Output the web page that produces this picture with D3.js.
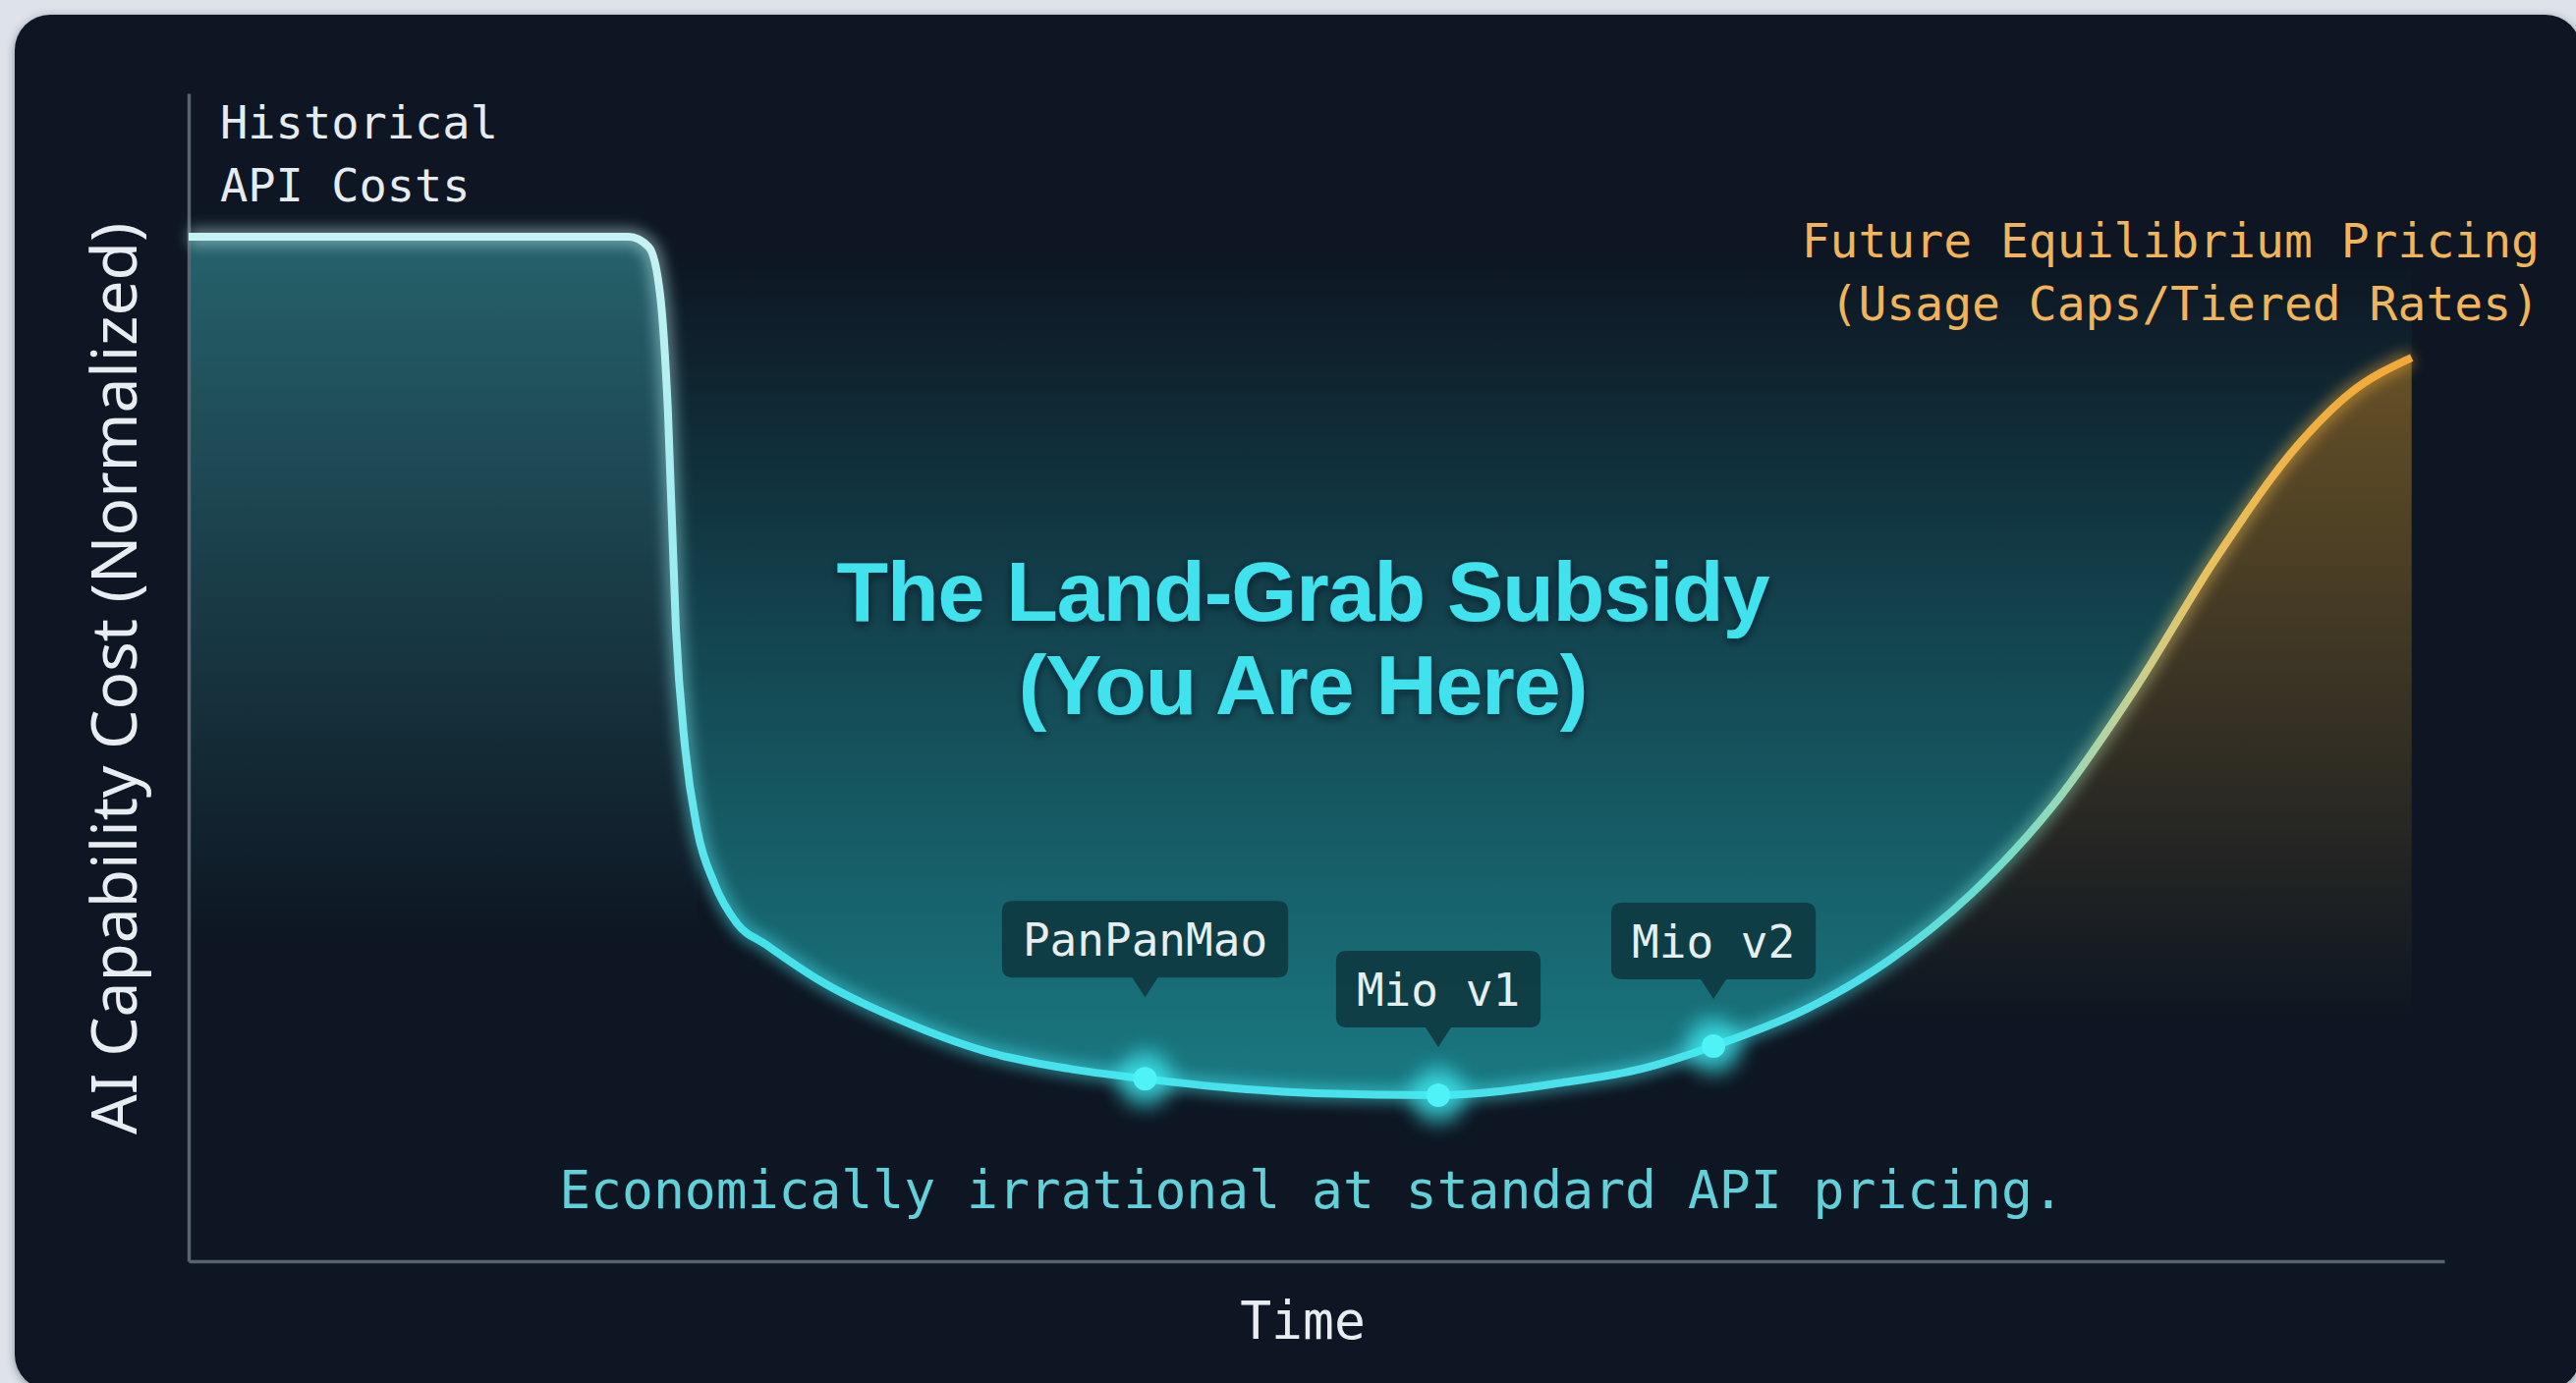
<!DOCTYPE html>
<meta charset="utf-8">
<html>
<head>
  <script src="https://d3js.org/d3.v7.min.js"></script>
  <style>
    html, body { margin: 0; padding: 0; background: #dde3e9; }
    svg { display: block; }
  </style>
</head>
<body>
<div id="chart"></div>
<script>
// normalized cost over time
var time = [0, 10, 19.5, 20.4, 20.9, 21.25, 21.6, 22.0, 22.55, 23.3, 24.3, 25.6, 28.05, 31.7, 35.3, 39.0,
            42.4, 46.25, 49.9, 55.4, 60.8, 64.45, 67.6, 71.7, 75.4, 79.0, 82.7, 86.3, 89.9, 93.6, 95.8, 98.55];
var cost = [1, 1, 1, 0.99, 0.944, 0.829, 0.618, 0.503, 0.421, 0.369, 0.330, 0.309, 0.273, 0.234, 0.205, 0.188,
            0.178, 0.169, 0.164, 0.162, 0.174, 0.188, 0.210, 0.246, 0.294, 0.358, 0.446, 0.559, 0.687, 0.799, 0.847, 0.882];

// products released during the subsidy phase
var milestoneNames = ["PanPanMao", "Mio v1", "Mio v2"];
var milestoneTime = [42.4, 55.4, 67.6];
var milestoneCost = [0.178, 0.162, 0.210];

var yTitle = "AI Capability Cost (Normalized)";
var xTitle = "Time";
var historicalLines = ["Historical", "API Costs"];
var futureLines = ["Future Equilibrium Pricing", "(Usage Caps/Tiered Rates)"];
var subsidyLines = ["The Land-Grab Subsidy", "(You Are Here)"];
var footnote = "Economically irrational at standard API pricing.";

var width = 2622, height = 1408;
var mono = "'DejaVu Sans Mono', 'Liberation Mono', monospace";

var svg = d3.select("#chart").append("svg")
    .attr("width", width)
    .attr("height", height);

var defs = svg.append("defs");

var x = d3.scaleLinear().domain([0, 100]).range([192, 2488]);
var y = d3.scaleLinear().domain([0, 1.14]).range([1284, 95]);

var pts = time.map(function(t, i) { return {t: t, c: cost[i]}; });

// --- gradients / filters ---
function vGrad(id, y1, y2, stops) {
  var g = defs.append("linearGradient").attr("id", id)
      .attr("gradientUnits", "userSpaceOnUse")
      .attr("x1", 0).attr("x2", 0).attr("y1", y1).attr("y2", y2);
  stops.forEach(function(s) {
    g.append("stop").attr("offset", s[0]).attr("stop-color", s[1]).attr("stop-opacity", s[2]);
  });
}
vGrad("glowFill", 260, 1120, [[0, "#1fa0a8", 0], [0.45, "#1fa0a8", 0.34], [1, "#1fa0a8", 0.72]]);
vGrad("histFill", y(1), 960, [[0, "#2f7f88", 0.72], [0.5, "#2f7f88", 0.36], [1, "#2f7f88", 0]]);
vGrad("futureFill", y(0.882), 1040, [[0, "#b8862a", 0.52], [0.5, "#b8862a", 0.26], [1, "#b8862a", 0]]);
vGrad("dropStroke", y(1), 950, [[0, "#c6f2f4", 1], [0.55, "#96ebef", 1], [1, "#45e2ec", 1]]);

var rs = defs.append("linearGradient").attr("id", "riseStroke")
    .attr("gradientUnits", "userSpaceOnUse")
    .attr("x1", 760).attr("x2", x(98.55)).attr("y1", 0).attr("y2", 0);
[[0, "#45e2ec"], [0.673, "#4de0ea"], [0.749, "#6fdccc"], [0.796, "#9cd8b4"],
 [0.832, "#c6d092"], [0.873, "#e6c262"], [0.938, "#f0b042"], [1, "#f2a838"]].forEach(function(s) {
  rs.append("stop").attr("offset", s[0]).attr("stop-color", s[1]);
});

var blur = defs.append("filter").attr("id", "blur")
    .attr("x", "-20%").attr("y", "-20%").attr("width", "140%").attr("height", "140%");
blur.append("feGaussianBlur").attr("stdDeviation", 7);

var dotBlur = defs.append("filter").attr("id", "dotBlur")
    .attr("x", "-100%").attr("y", "-100%").attr("width", "300%").attr("height", "300%");
dotBlur.append("feGaussianBlur").attr("stdDeviation", 10);

var textGlow = defs.append("filter").attr("id", "textGlow")
    .attr("x", "-10%").attr("y", "-30%").attr("width", "120%").attr("height", "160%");
textGlow.append("feDropShadow").attr("dx", 0).attr("dy", 3).attr("stdDeviation", 5)
    .attr("flood-color", "#04101a").attr("flood-opacity", 0.6);

var shadow = defs.append("filter").attr("id", "cardShadow")
    .attr("x", "-2%").attr("y", "-2%").attr("width", "104%").attr("height", "104%");
shadow.append("feDropShadow").attr("dx", 0).attr("dy", 2).attr("stdDeviation", 4)
    .attr("flood-color", "#2a3440").attr("flood-opacity", 0.5);

defs.append("clipPath").attr("id", "clipLeft").append("rect")
    .attr("x", 0).attr("y", 0).attr("width", 770).attr("height", height);
defs.append("clipPath").attr("id", "clipRight").append("rect")
    .attr("x", 770).attr("y", 0).attr("width", width - 770).attr("height", height);

// --- card ---
svg.append("rect")
    .attr("x", 15).attr("y", 15)
    .attr("width", 2612).attr("height", 1400)
    .attr("rx", 36)
    .attr("fill", "#0b1421")
    .attr("filter", "url(#cardShadow)");

// --- fills ---
var curve = d3.curveMonotoneX;

svg.append("path")
    .datum(pts)
    .attr("fill", "url(#glowFill)")
    .attr("d", d3.area().curve(curve)
        .x(function(d) { return x(d.t); })
        .y0(y(1.14))
        .y1(function(d) { return y(d.c); }));

svg.append("path")
    .datum(pts.filter(function(d) { return d.t <= 22.55; }))
    .attr("fill", "url(#histFill)")
    .attr("d", d3.area().curve(curve)
        .x(function(d) { return x(d.t); })
        .y0(y(0))
        .y1(function(d) { return y(d.c); }));

svg.append("path")
    .datum(pts.filter(function(d) { return d.t >= 67.6; }))
    .attr("fill", "url(#futureFill)")
    .attr("d", d3.area().curve(curve)
        .x(function(d) { return x(d.t); })
        .y0(y(0))
        .y1(function(d) { return y(d.c); }));

// --- axes (lines only) ---
var axisColor = "#58636f";
svg.append("g").attr("transform", "translate(" + x(0) + ",0)")
    .call(d3.axisLeft(y).tickValues([]).tickSizeOuter(0));
svg.append("g").attr("transform", "translate(0," + y(0) + ")")
    .call(d3.axisBottom(x).tickValues([]).tickSizeOuter(0));
svg.selectAll(".domain").attr("stroke", axisColor).attr("stroke-width", 3.5);

// --- cost line ---
var line = d3.line().curve(curve)
    .x(function(d) { return x(d.t); })
    .y(function(d) { return y(d.c); });

[["url(#clipLeft)", "url(#dropStroke)"], ["url(#clipRight)", "url(#riseStroke)"]].forEach(function(p) {
  var g = svg.append("g").attr("clip-path", p[0]);
  g.append("path").datum(pts)
      .attr("fill", "none").attr("stroke", p[1])
      .attr("stroke-width", 18).attr("opacity", 0.45)
      .attr("filter", "url(#blur)")
      .attr("d", line);
  g.append("path").datum(pts)
      .attr("fill", "none").attr("stroke", p[1])
      .attr("stroke-width", 8)
      .attr("stroke-linejoin", "round")
      .attr("d", line);
});

// --- milestones ---
var ms = milestoneNames.map(function(n, i) {
  return {name: n, t: milestoneTime[i], c: milestoneCost[i]};
});
var tipGap = [83, 49, 48];  // callout lift above each dot

var callout = svg.selectAll(".callout").data(ms).enter().append("g")
    .attr("class", "callout")
    .attr("transform", function(d) { return "translate(" + x(d.t) + "," + y(d.c) + ")"; });

callout.each(function(d, i) {
  var g = d3.select(this);
  var tip = -tipGap[i], bottom = tip - 20, boxH = 78, r = 11;
  var label = g.append("text")
      .attr("x", 0).attr("y", bottom - boxH / 2 + 17)
      .attr("text-anchor", "middle")
      .attr("font-family", mono).attr("font-size", 46)
      .attr("fill", "#e6eef0")
      .text(d.name);
  var w = label.node().getComputedTextLength() + 42;
  var top = bottom - boxH, hw = w / 2;
  g.insert("path", "text")
      .attr("d", "M" + (-hw + r) + "," + top +
                 "H" + (hw - r) + "Q" + hw + "," + top + " " + hw + "," + (top + r) +
                 "V" + (bottom - r) + "Q" + hw + "," + bottom + " " + (hw - r) + "," + bottom +
                 "H13L0," + tip + "L-13," + bottom +
                 "H" + (-hw + r) + "Q" + (-hw) + "," + bottom + " " + (-hw) + "," + (bottom - r) +
                 "V" + (top + r) + "Q" + (-hw) + "," + top + " " + (-hw + r) + "," + top + "Z")
      .attr("fill", "#0e3840").attr("fill-opacity", 0.9);
  g.append("circle").attr("r", 28).attr("fill", "#3ff0f6").attr("opacity", 0.7).attr("filter", "url(#dotBlur)");
  g.append("circle").attr("r", 12).attr("fill", "#4ef2f7");
});

// --- text ---
svg.append("text")
    .attr("transform", "translate(139,691) rotate(-90)")
    .attr("text-anchor", "middle")
    .attr("font-family", "'Noto Sans', 'Open Sans', sans-serif")
    .attr("font-size", 64)
    .attr("fill", "#e8edf1")
    .text(yTitle);

svg.append("text")
    .attr("x", 1326).attr("y", 1363)
    .attr("text-anchor", "middle")
    .attr("font-family", mono).attr("font-size", 53)
    .attr("fill", "#e8edf1")
    .text(xTitle);

svg.append("g").selectAll("text").data(historicalLines).enter().append("text")
    .attr("x", 224).attr("y", function(d, i) { return 141 + i * 64; })
    .attr("font-family", mono).attr("font-size", 47)
    .attr("fill", "#e6ebee")
    .text(function(d) { return d; });

svg.append("g").selectAll("text").data(futureLines).enter().append("text")
    .attr("x", 2585).attr("y", function(d, i) { return 262 + i * 64; })
    .attr("text-anchor", "end")
    .attr("font-family", mono).attr("font-size", 48)
    .attr("fill", "#efb45c")
    .text(function(d) { return d; });

svg.append("g").attr("filter", "url(#textGlow)")
  .selectAll("text").data(subsidyLines).enter().append("text")
    .attr("x", 1326).attr("y", function(d, i) { return 632 + i * 95; })
    .attr("text-anchor", "middle")
    .attr("font-family", "'Liberation Sans', Arial, sans-serif")
    .attr("font-weight", "bold")
    .attr("font-size", 86)
    .attr("letter-spacing", -1)
    .attr("fill", "#3fe2ee")
    .text(function(d) { return d; });

svg.append("text")
    .attr("x", 1335).attr("y", 1230)
    .attr("text-anchor", "middle")
    .attr("font-family", mono).attr("font-size", 53)
    .attr("fill", "#62d0d8")
    .text(footnote);
</script>
</body>
</html>
